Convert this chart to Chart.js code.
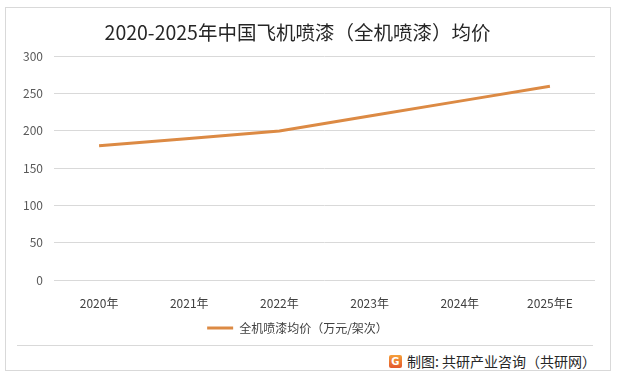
<!DOCTYPE html>
<html>
<head>
<meta charset="utf-8">
<script src="https://cdn.jsdelivr.net/npm/chart.js@4/dist/chart.umd.min.js"></script>
<style>
  html, body { margin: 0; padding: 0; background: #fff; }
  body { width: 618px; height: 379px; position: relative; overflow: hidden;
         font-family: "Noto Sans CJK SC", "Noto Sans", sans-serif; }
  #frame { position: absolute; left: 5px; top: 7px; width: 606px; height: 364px;
           border: 1px solid #D9D9D9; box-sizing: border-box; }
  #sep { position: absolute; left: 17px; top: 345px; width: 576px; height: 1px; background: #D9D9D9; }
  #wrap { position: absolute; left: 0; top: 0; width: 618px; height: 345px; }
  #source { position: absolute; right: 22px; top: 351px; font-size: 14px; color: #262626;
            display: flex; align-items: center; white-space: nowrap; }
  #logo { width: 13px; height: 13px; background: linear-gradient(#F5A03A, #E4572B); color: #fff;
          font-size: 10px; font-weight: bold; line-height: 13px; text-align: center;
          margin-right: 5px; border-radius: 2px; font-family: "DejaVu Sans", sans-serif; }
</style>
</head>
<body>
<div id="frame"></div>
<div id="sep"></div>
<div id="wrap"><canvas id="c" width="618" height="345"></canvas></div>
<div id="source"><div id="logo">G</div><span>制图: 共研产业咨询（共研网）</span></div>
<script>
const categories = ["2020年", "2021年", "2022年", "2023年", "2024年", "2025年E"];
const avgPrice = [180, 190, 200, 220, 240, 260];
const seriesName = "全机喷漆均价（万元/架次）";
const chartTitle = "2020-2025年中国飞机喷漆（全机喷漆）均价";
const yMin = 0, yMax = 300, yStep = 50;

const fontFamily = '"Noto Sans CJK SC", "Noto Sans", sans-serif';
const lineColor = "#DC8A44";

new Chart(document.getElementById("c"), {
  type: "line",
  data: {
    labels: categories,
    datasets: [{
      label: seriesName,
      data: avgPrice,
      borderColor: lineColor,
      backgroundColor: lineColor,
      borderWidth: 3,
      pointRadius: 0,
      pointHoverRadius: 0,
      tension: 0,
      fill: false
    }]
  },
  options: {
    responsive: false,
    animation: false,
    devicePixelRatio: 1,
    layout: { padding: { left: 0, right: 23, top: 6, bottom: 1 } },
    plugins: {
      title: {
        display: true,
        text: chartTitle,
        color: "#262626",
        font: { family: fontFamily, size: 19.5, weight: "normal" },
        padding: { top: 15, bottom: 12 }
      },
      legend: {
        position: "bottom",
        labels: {
          color: "#404040",
          font: { family: fontFamily, size: 12 },
          boxWidth: 26,
          boxHeight: 3,
          padding: 2,
          generateLabels: (chart) => chart.data.datasets.map((ds, i) => ({
            text: ds.label,
            fillStyle: ds.borderColor,
            strokeStyle: ds.borderColor,
            lineWidth: 0,
            hidden: false,
            datasetIndex: i,
            fontColor: "#404040"
          }))
        }
      },
      tooltip: { enabled: false }
    },
    scales: {
      x: {
        offset: true,
        grid: { display: false, drawTicks: false },
        border: { display: false },
        ticks: { color: "#404040", font: { family: fontFamily, size: 12 }, padding: 16, maxRotation: 0 },
        afterFit: (s) => { s.height = 40; }
      },
      y: {
        min: yMin, max: yMax,
        ticks: { stepSize: yStep, color: "#595959", font: { family: fontFamily, size: 12 }, padding: 11 },
        grid: { color: "#D9D9D9", lineWidth: 1, drawTicks: false },
        border: { display: false },
        afterFit: (s) => { s.width = 54; }
      }
    }
  }
});
</script>
</body>
</html>
